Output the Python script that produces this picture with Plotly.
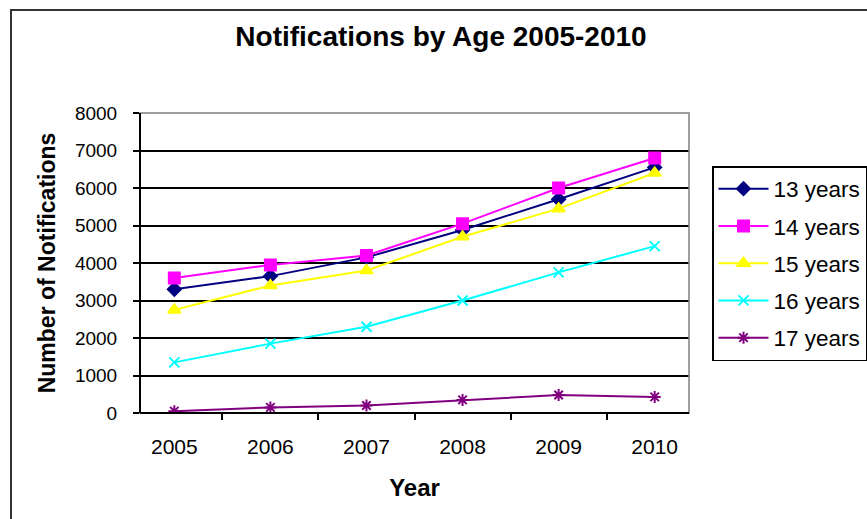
import plotly.graph_objects as go

years = ["2005", "2006", "2007", "2008", "2009", "2010"]
series_names = ["13 years", "14 years", "15 years", "16 years", "17 years"]
age13 = [3300, 3650, 4150, 4880, 5700, 6550]
age14 = [3600, 3950, 4200, 5050, 6000, 6800]
age15 = [2750, 3400, 3800, 4700, 5450, 6400]
age16 = [1350, 1850, 2300, 3000, 3750, 4450]
age17 = [50, 150, 200, 350, 480, 430]
y_ticks = [0, 1000, 2000, 3000, 4000, 5000, 6000, 7000, 8000]

values = [age13, age14, age15, age16, age17]
colors = ["#000080", "#FF00FF", "#FFFF00", "#00FFFF", "#800080"]
symbols = ["diamond", "square", "triangle-up", "x-thin", "asterisk"]
sizes = [10, 11, 11, 10, 10]

W, H = 867, 519
L, R, T, B = 140, 689, 113, 413

def px(x):
    return (x - L) / (R - L)

def py(y):
    return (B - y) / (B - T)

fig = go.Figure()
for i, (name, vals) in enumerate(zip(series_names, values)):
    fig.add_trace(go.Scatter(
        x=years, y=vals, name=name, mode="lines+markers",
        legendgroup=f"g{i}",
        line=dict(color=colors[i], width=2),
        marker=dict(symbol=symbols[i], size=sizes[i], color=colors[i],
                    line=dict(color=colors[i], width=2)),
    ))

# outer frame
fig.add_shape(type="rect", xref="paper", yref="paper",
              x0=px(11), x1=px(880), y0=py(10), y1=py(540),
              line=dict(color="#333333", width=2), fillcolor="white", layer="below")
# plot area border (gray top/right)
fig.add_shape(type="rect", xref="paper", yref="paper",
              x0=0, x1=1, y0=0, y1=1,
              line=dict(color="#808080", width=1.5), layer="above")
fig.add_shape(type="line", xref="paper", yref="paper",
              x0=0, x1=0, y0=0, y1=1, line=dict(color="black", width=2), layer="above")
fig.add_shape(type="line", xref="paper", yref="paper",
              x0=0, x1=1, y0=0, y1=0, line=dict(color="black", width=2), layer="above")

fig.update_layout(
    width=W, height=H,
    margin=dict(l=L, r=W - R, t=T, b=H - B, autoexpand=False),
    paper_bgcolor="white",
    plot_bgcolor="#C0C0C0",
    font=dict(family="Liberation Sans, Arial, sans-serif", color="black"),
    title=dict(text="<b>Notifications by Age 2005-2010</b>",
               x=px(441), xanchor="center", xref="paper",
               y=1 - 36 / H, yanchor="middle", yref="container",
               font=dict(size=28, color="black")),
    xaxis=dict(type="category", categoryorder="array", categoryarray=years,
               tickson="boundaries", ticks="outside", ticklen=6, tickwidth=1.5,
               tickcolor="black", showgrid=False, showline=False,
               tickfont=dict(size=21), ticklabelstandoff=19,
               title=dict(text="<b>Year</b>", font=dict(size=24), standoff=22)),
    yaxis=dict(range=[0, 8000], tickvals=y_ticks, ticks="outside", ticklen=6,
               tickwidth=1.5, tickcolor="black", showgrid=True,
               gridcolor="black", gridwidth=1.5, zeroline=False, showline=False,
               tickfont=dict(size=19), ticklabelstandoff=12,
               title=dict(text="<b>Number of Notifications</b>", font=dict(size=23),
                          standoff=12)),
    legend=dict(x=px(712), y=py(166), xanchor="left", yanchor="top",
                bgcolor="white", bordercolor="black", borderwidth=1.5,
                font=dict(size=22.5), tracegroupgap=5, traceorder="grouped",
                itemwidth=50),
    showlegend=True,
)

fig.write_html("out.html")
